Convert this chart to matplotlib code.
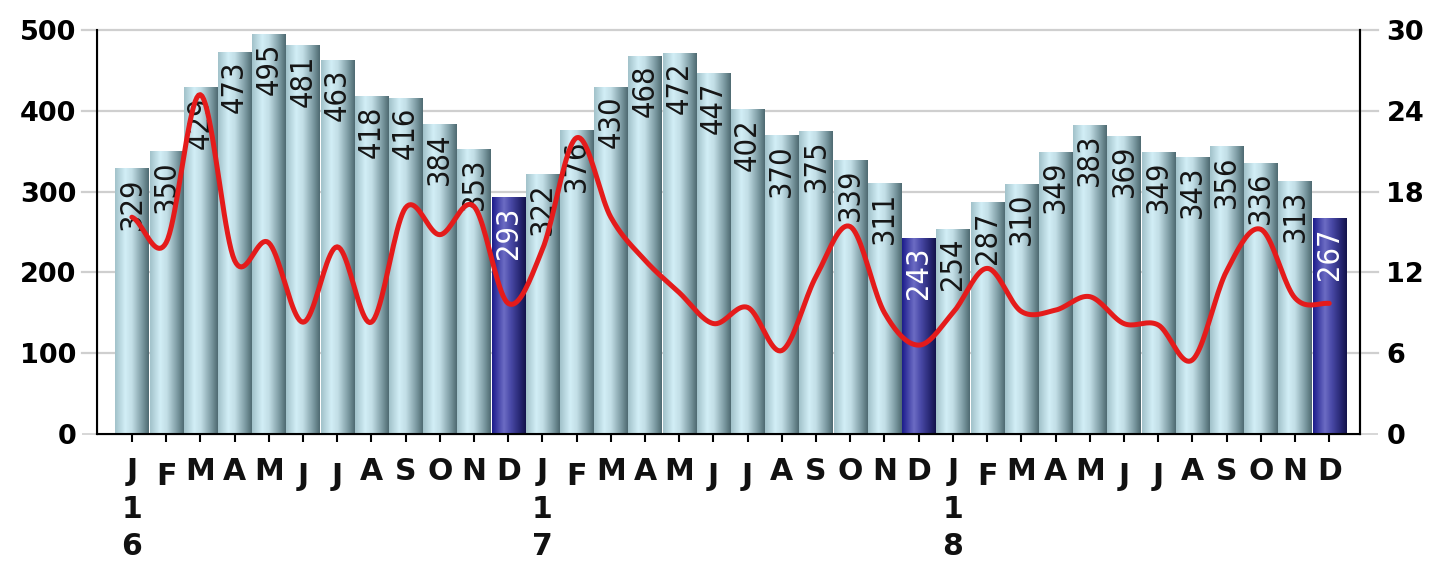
import numpy as np
import matplotlib
matplotlib.use("Agg")
import matplotlib.pyplot as plt
from matplotlib import font_manager
from matplotlib.patches import Rectangle

# monthly counts (left axis) and rate (right axis), Jan 2016 - Dec 2018
months = ["J", "F", "M", "A", "M", "J", "J", "A", "S", "O", "N", "D"] * 3
years = ["16", "17", "18"]
counts = [329, 350, 429, 473, 495, 481, 463, 418, 416, 384, 353, 293,
          322, 376, 430, 468, 472, 447, 402, 370, 375, 339, 311, 243,
          254, 287, 310, 349, 383, 369, 349, 343, 356, 336, 313, 267]
rate = [16.1, 14.2, 25.2, 12.9, 14.2, 8.3, 13.9, 8.3, 16.8, 14.8, 16.9, 9.7,
        13.7, 22.0, 16.1, 12.9, 10.5, 8.2, 9.4, 6.2, 11.7, 15.4, 9.0, 6.6,
        9.0, 12.3, 9.1, 9.2, 10.2, 8.2, 8.1, 5.5, 12.1, 15.2, 10.1, 9.7]

# pick a condensed face for the bar labels if one is around
fl = font_manager.fontManager.ttflist
names = {f.name for f in fl}
lab_font = dict(family="Liberation Sans", fontsize=20)
if "Liberation Sans Narrow" in names:
    lab_font = dict(family="Liberation Sans Narrow", fontsize=23)
elif any(f.name == "DejaVu Sans" and f.stretch == "condensed" and f.weight in (400, "normal") for f in fl):
    lab_font = dict(family="DejaVu Sans", fontstretch="condensed", fontsize=22)

DPI = 100
fig = plt.figure(figsize=(14.34, 5.64), dpi=DPI)
ax = fig.add_axes([97 / 1434, 1 - 434 / 564, 1263 / 1434, 404 / 564])

n = len(counts)
x = np.arange(n)
width = 0.97

# horizontal gridlines (extending a bit past the spines like the original)
for v in range(100, 501, 100):
    ax.plot([-0.012, 1.014], [v, v], color="#cfcfcf", lw=1.6,
            transform=ax.get_yaxis_transform(), clip_on=False, zorder=0)


def cyl(stops):
    pos = [p for p, c in stops]
    cols = np.array([matplotlib.colors.to_rgb(c) for p, c in stops])
    t = np.linspace(0, 1, 64)
    return np.stack([np.interp(t, pos, cols[:, k]) for k in range(3)], axis=-1)[None, :, :]


light = cyl([(0, "#a2c2ca"), (0.3, "#d2eef6"), (0.5, "#c2dee6"), (0.8, "#7e9ca4"), (1, "#4f6b72")])
dark = cyl([(0, "#1c1c8c"), (0.35, "#6c6cc4"), (0.55, "#4a4aa8"), (0.85, "#24246e"), (1, "#14144c")])

for i, v in enumerate(counts):
    is_dec = months[i] == "D"
    rect = Rectangle((i - width / 2, 0), width, v, facecolor="none", edgecolor="none")
    ax.add_patch(rect)
    im = ax.imshow(dark if is_dec else light, extent=[i - width / 2, i + width / 2, 0, v],
                   aspect="auto", interpolation="bilinear", zorder=2)
    im.set_clip_path(rect)
    ax.annotate(str(v), xy=(i, v), xytext=(0, -9), textcoords="offset pixels",
                rotation=90, ha="center", va="top",
                color="white" if is_dec else "#151515", zorder=3, **lab_font)

ax.set_xlim(-1.02, 35.9)
ax.set_ylim(0, 500)
ax.set_yticks(range(0, 501, 100))
ax.set_xticks(x)
ax.set_xticklabels([])
ax.tick_params(axis="x", length=6, width=1.5, color="black", direction="out")
ax.tick_params(axis="y", length=11, width=1.2, color="#cfcfcf", pad=4, labelsize=19.5)
for lab in ax.get_yticklabels():
    lab.set_fontweight("bold")
ax.spines["top"].set_visible(False)
for s in ["left", "right", "bottom"]:
    ax.spines[s].set_linewidth(1.5)
    ax.spines[s].set_color("black")

# month letters + year digits underneath
lower = {1, 5, 6}
for i, m in enumerate(months):
    dy = 28 if (i % 12) in lower else 23
    txt = m
    if i % 12 == 0:
        yr = years[i // 12]
        txt = m + "\n" + yr[0] + "\n" + yr[1]
    ax.annotate(txt, xy=(i, 0), xycoords=("data", "axes fraction"), xytext=(0, -dy),
                textcoords="offset pixels", ha="center", va="top", fontsize=21.5,
                fontweight="bold", linespacing=1.38, color="#111111")

# smooth red line on the secondary axis
ax2 = ax.twinx()
ax2.set_ylim(0, 30)
ax2.set_yticks(range(0, 31, 6))
ax2.tick_params(axis="y", length=13, width=1.2, color="#cfcfcf", pad=6, labelsize=19.5)
for lab in ax2.get_yticklabels():
    lab.set_fontweight("bold")
ax2.spines["top"].set_visible(False)
ax2.spines["right"].set_linewidth(1.5)

r = np.asarray(rate, dtype=float)
p = np.concatenate([[r[0]], r, [r[-1]]])
xs, ys = [], []
for k in range(n - 1):
    p0, p1, p2, p3 = p[k], p[k + 1], p[k + 2], p[k + 3]
    t = np.linspace(0, 1, 20, endpoint=False)
    yk = 0.5 * ((2 * p1) + (-p0 + p2) * t + (2 * p0 - 5 * p1 + 4 * p2 - p3) * t ** 2
                + (-p0 + 3 * p1 - 3 * p2 + p3) * t ** 3)
    xs.append(k + t)
    ys.append(yk)
xs.append([n - 1])
ys.append([r[-1]])
ax2.plot(np.concatenate(xs), np.concatenate(ys), color="#e41b1b", lw=3.6,
         solid_capstyle="round", zorder=5)

fig.savefig("out.png", dpi=DPI)
